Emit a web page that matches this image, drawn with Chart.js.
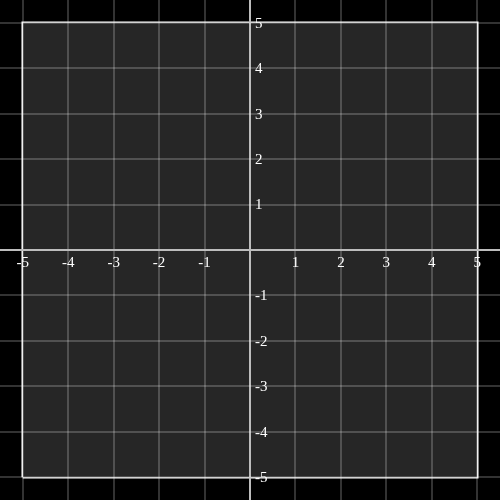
<!DOCTYPE html>
<html>
<head>
<meta charset="utf-8">
<script src="https://cdn.jsdelivr.net/npm/chart.js@4.4.1/dist/chart.umd.min.js"></script>
<style>
  html, body { margin: 0; padding: 0; background: #000; }
  #wrap { width: 500px; height: 500px; }
</style>
</head>
<body>
<div id="wrap"><canvas id="chart" width="500" height="500"></canvas></div>
<script>
// view range and the shaded square
const axisRange = [-5.5, 5.5];
const squareBounds = [-5, 5];
const gridValues = [-5, -4, -3, -2, -1, 0, 1, 2, 3, 4, 5];
const tickValues = [-5, -4, -3, -2, -1, 1, 2, 3, 4, 5];
const tickLabels = ['-5', '-4', '-3', '-2', '-1', '1', '2', '3', '4', '5'];

const [lo, hi] = squareBounds;
const topEdge = [{ x: lo, y: hi }, { x: hi, y: hi }];
const bottomEdge = [{ x: lo, y: lo }, { x: hi, y: lo }];
const outline = [{ x: lo, y: lo }, { x: lo, y: hi }, { x: hi, y: hi }, { x: hi, y: lo }, { x: lo, y: lo }];

const gridColor = (ctx) => (ctx.tick && ctx.tick.value === 0 ? '#bdbdbd' : 'rgba(255,255,255,0.2)');

const tickLabelPlugin = {
  id: 'tickLabels',
  afterDraw(chart) {
    const { ctx, scales: { x, y } } = chart;
    const x0 = x.getPixelForValue(0);
    const y0 = y.getPixelForValue(0);
    ctx.save();
    ctx.fillStyle = '#ffffff';
    ctx.font = '15px "Liberation Serif", "DejaVu Serif", serif';
    tickValues.forEach((v, i) => {
      ctx.textAlign = 'center';
      ctx.textBaseline = 'top';
      ctx.fillText(tickLabels[i], x.getPixelForValue(v), y0 + 6);
      ctx.textAlign = 'left';
      ctx.textBaseline = 'middle';
      ctx.fillText(tickLabels[i], x0 + 5, y.getPixelForValue(v) + 1);
    });
    ctx.restore();
  }
};

const bgPlugin = {
  id: 'bg',
  beforeDraw(chart) {
    const { ctx, width, height } = chart;
    ctx.save();
    ctx.fillStyle = '#000';
    ctx.fillRect(0, 0, width, height);
    ctx.restore();
  }
};

const scaleOpts = {
  type: 'linear',
  min: axisRange[0],
  max: axisRange[1],
  z: 1,
  border: { display: false },
  grid: { z: 1, color: gridColor, lineWidth: 2, drawTicks: false },
  ticks: { display: false },
  afterBuildTicks: (scale) => { scale.ticks = gridValues.map((value) => ({ value })); }
};

new Chart(document.getElementById('chart'), {
  type: 'scatter',
  data: {
    datasets: [
      { data: topEdge, showLine: true, borderWidth: 0, pointRadius: 0, fill: '+1', backgroundColor: '#262626' },
      { data: bottomEdge, showLine: true, borderWidth: 0, pointRadius: 0, fill: false },
      { data: outline, showLine: true, borderColor: '#ffffff', borderWidth: 2.5, pointRadius: 0, fill: false }
    ]
  },
  options: {
    responsive: false,
    animation: false,
    layout: { padding: 0 },
    plugins: { legend: { display: false }, tooltip: { enabled: false } },
    scales: { x: { ...scaleOpts, position: 'bottom' }, y: { ...scaleOpts, position: 'left' } }
  },
  plugins: [bgPlugin, tickLabelPlugin]
});
</script>
</body>
</html>
